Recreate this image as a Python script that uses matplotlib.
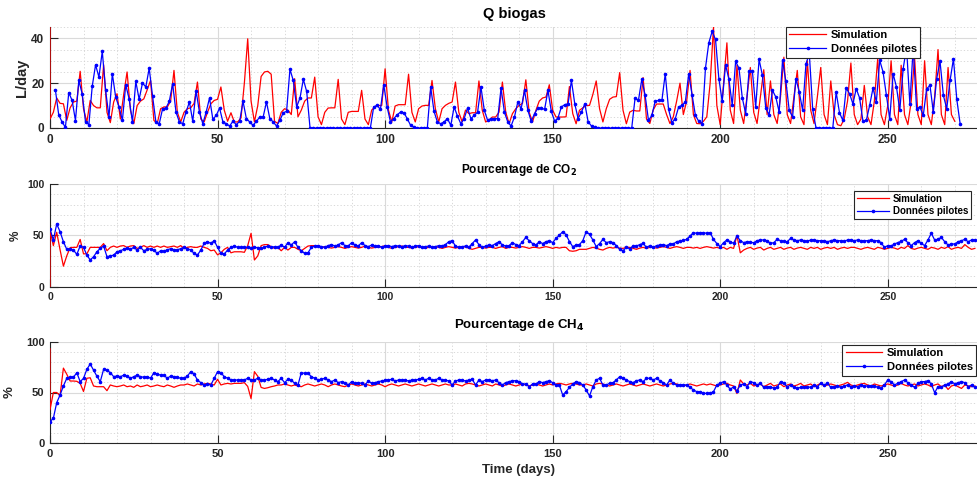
import numpy as np
import matplotlib
matplotlib.use("Agg")
import matplotlib.pyplot as plt
from matplotlib.ticker import MultipleLocator

plt.rcParams['font.family'] = ['Liberation Sans', 'DejaVu Sans']

# ---------------- DATA ----------------
legend_labels = ["Simulation", "Données pilotes"]
titles = ["Q biogas", r"Pourcentage de CO$_\mathbf{2}$", r"Pourcentage de CH$_\mathbf{4}$"]
ylabels = ["L/day", "%", "%"]
xlabel = "Time (days)"
xticks = [0, 50, 100, 150, 200, 250]

# Q biogas - pilot data (daily, first sample at day 1.6)
q_pilot_start = 1.6
q_pilot = [
    17.1, 5.9, 2.7, 0.3, 15.8, 12.3, 3.3, 21.2, 15.3, 2.7, 1.5, 18.6, 28.2, 22.7, 34.2, 16.8, 4.9, 24.2, 13.8, 9.4,
    3.4, 19.3, 13.1, 2.7, 20.8, 12.8, 20.1, 18.3, 26.7, 14.3, 2.7, 1.9, 8.6, 8.9, 11.9, 19.8, 7.1, 2.7, 1.9, 7.1,
    11.6, 3.0, 16.5, 7.1, 1.9, 7.1, 13.4, 3.9, 5.6, 8.9, 2.7, 1.9, 0.9, 3.0,
    1.5, 3.0, 11.9, 4.2, 2.7, 1.2, 3.0, 4.9, 4.9, 11.6, 4.2, 2.7, 0.9, 3.4, 6.8, 7.4, 26.2, 21.2, 9.4, 13.4,
    21.7, 16.3, 0, 0, 0, 0, 0, 0, 0, 0, 0, 0, 0, 0, 0, 0, 0, 0, 0, 0, 0,
    9.4, 10.1, 8.3, 19.3, 9.4, 2.7, 4.2, 5.9, 7.1, 6.8, 4.2, 1.2, 0.3,
    0, 0, 0, 0,
    18.3, 7.4, 2.7, 1.9, 2.7, 4.2, 1.2, 9.4, 5.3, 1.9, 4.2, 8.9, 4.2, 5.6, 7.1, 18.3, 7.9, 3.4, 4.2, 4.2,
    4.2, 17.8, 7.1, 2.7, 0.9, 4.9, 11.6, 8.6, 16.8, 7.9, 3.0, 6.4, 8.9, 8.9, 8.3, 16.8, 7.4, 3.0, 4.5, 9.4,
    10.4, 10.8, 21.2, 10.8, 4.2, 7.1, 10.8, 2.7, 0.9, 0.3,
    0, 0, 0, 0, 0, 0, 0, 0, 0, 0, 0,
    13.4, 12.3, 21.7, 14.6, 3.4, 5.6, 11.9, 12.3, 12.3, 24.2, 8.3, 2.4, 4.2, 9.4, 10.1, 11.6, 24.2, 14.9, 5.6, 3.0,
    1.9, 26.7, 38.0, 43.1, 39.5, 22.0, 11.9, 28.2, 21.7, 10.1, 29.7, 26.7, 13.4, 6.4, 25.3, 25.3, 9.4, 30.6, 23.5, 8.9,
    5.9, 16.8, 13.8, 7.1,
    30.2, 20.8, 7.9, 4.9, 22.0, 16.0, 7.9, 28.7, 33.1, 8.3, 0, 0, 0, 0, 0, 0,
    16.0, 6.8, 3.4, 17.8, 15.3, 10.8, 17.5, 13.4, 3.0, 3.4, 10.1, 17.8, 11.6, 30.2, 25.0, 14.6, 4.2, 24.2, 18.3, 7.9,
    26.4, 36.0, 10.8, 36.0, 8.6, 9.4, 5.6, 17.5, 19.0, 7.1, 22.0, 29.7, 14.6, 8.6, 21.2, 30.9, 12.8, 1.9,
]

# Q biogas - simulation (daily from day 0, initial value before the jump)
q_sim_initial = 48
q_sim = [
    4, 7, 13.4, 11, 10.8, 3.4, 9, 11.6, 12, 25.3, 8.6, 2.7, 12.3, 10, 9, 9, 28.2, 7, 2.4, 11.6,
    15.3, 4, 15, 25, 8, 1.9, 10, 12, 13, 17, 21.2, 3.4, 2, 8.6, 9.4, 9.4, 12, 25.7, 7, 2.7,
    7, 8.6, 9, 11, 20.5, 4, 2.7, 7, 10.8, 12.3, 12.8, 18.3, 8, 3, 6.8, 2.7, 2.7, 4.5, 20, 39.8,
    12, 2.7, 10, 23, 25, 25.3, 24, 3, 2, 7, 8.6, 8, 6, 22, 5, 8, 12, 13.4, 13.4, 22.7,
    5, 1.5, 7, 8.9, 9, 9, 21.7, 4, 1.5, 7, 7.4, 7.4, 7.4, 16.8, 4, 1.5, 8, 9.5, 10, 10.1,
    26.4, 8, 2.7, 9.8, 10.4, 10.4, 10.4, 24, 7, 2.7, 8.6, 9.8, 10.1, 10.1, 21.2, 8.6, 2.7, 8.6, 10.1, 11,
    11.6, 20.5, 7, 2.7, 8, 6.4, 6.8, 6.8, 21, 7.9, 2.7, 3.4, 4.9, 4.9, 7.1, 20.5, 7.1, 1.9, 6.4, 8.6,
    10.1, 11, 21.5, 7, 2.7, 7.9, 12, 13.4, 13.8, 19.3, 7.9, 4.9, 4.9, 4.9, 5, 18.5, 6.4, 1.9, 7.9, 9,
    10, 10.1, 15, 21, 8.6, 2.7, 8.6, 12.8, 13.8, 14, 24.7, 7.9, 1.9, 7.1, 7.9, 7.6, 7.6, 22.5, 4, 2,
    8, 10.7, 10.7, 10.7, 6, 2, 5, 12, 20, 6, 12, 25.7, 6, 2, 1.9, 3, 5, 20, 45, 10,
    1.5, 20, 38, 8, 2, 28, 8, 2, 14, 27, 7, 2, 14, 26, 6, 21, 6, 2, 14, 31.6,
    6, 2, 14, 25.7, 5, 1.5, 30, 8, 2, 14, 27, 6, 1.5, 21, 6, 1.5, 1, 4, 12, 29,
    6, 1.5, 4, 19, 5, 1.5, 12, 31, 6, 1.5, 10, 30, 6, 1.5, 28, 6, 1.5, 12, 31.6, 6,
    1.5, 30, 6, 1.5, 14, 35, 6, 1.5, 27, 6, 3,
]

# CO2 percentage - pilot data (daily from day 0)
co2_pilot = [
    56.2, 45.5, 61, 53.6, 43.8, 36.4, 36.4, 35.7, 31.5, 39.6, 38.3, 30.8, 26, 29.2, 34, 37.3, 39.6, 29.2, 29.9, 30.8,
    34, 35, 36.4, 37.3, 36.4, 38.3, 35.7, 38.3, 35, 36.4, 37, 35.5, 32.5, 35, 34.5, 36, 37, 36, 36, 37,
    38.3, 37, 35.7, 32.5, 30.8, 35.7, 42.2, 43.8, 42.2, 44.8, 38.3, 32.5, 31.8, 35.7, 38.3, 39.6, 38.3, 38.3, 38.3, 38.3,
    37.3, 38.3, 38, 37.3, 38.3, 39.6, 38.3, 39, 38.3, 40.6, 38.3, 42.9, 40.6, 43.8, 38.3, 35, 32.5, 33.1, 38.3, 39.6,
    40, 39, 38.3, 40, 41, 39.6, 40.6, 42.9, 40, 39.6, 42.9, 40.6, 39.6, 42.9, 40, 39, 40.6, 39.6, 40, 38.3,
    39.6, 40, 39, 40, 39.6, 39, 40, 39.6, 38.3, 39.6, 40, 38.3, 39, 39.6, 38.3, 39, 40, 39.6, 41, 43.8,
    44.8, 39.6, 38.3, 39, 39.6, 38.3, 42, 45.5, 41, 38.3, 39.6, 40.6, 40, 42, 43.8, 40.6, 39.6, 40, 42.9, 41,
    40, 43.8, 48, 44.8, 42, 40.6, 43.8, 42, 43.8, 44.8, 42.9, 47, 50, 53.6, 50.6, 44, 39, 40.6, 41, 44.8,
    53.6, 51, 45.5, 39, 42, 46.1, 42.9, 43.8, 42.9, 40, 36.4, 35, 38.3, 37, 39.6, 39.6, 41, 42.2, 38.3, 40,
    38.3, 40, 40.6, 41, 40, 41.6, 41.6, 43.8, 44.5, 45, 46.1, 49.4, 52.6, 52, 52.6, 52.6, 52, 52.6, 46.1, 42,
    39, 42.9, 45.5, 43.8, 42.2, 49.4, 44.8, 42.9, 43.8, 43.1, 42.9, 44.8, 45.5, 45.5, 44.8, 42.2, 42.9, 46.1, 44.8, 44.2,
    43.8, 47, 45.5, 44.8, 45.5, 44.8, 44.2, 45.5, 45.5, 44.8, 44.8, 44.8, 43.8, 44.8, 45.5, 44.8, 44.8, 44.2, 45.5, 45.5,
    44.8, 45.5, 44.8, 44.8, 44.8, 45.5, 44.8, 44.8, 42.9, 38.3, 40, 39.6, 41.6, 42.9, 44.2, 46.1, 42.9, 40, 42.9, 44.8,
    42.2, 40, 45.5, 52, 45.5, 46.1, 48, 43.8, 40.6, 41.6, 41.6, 43.8, 44.8, 46.1, 43.8, 45.5, 45.5,
]

# CO2 percentage - simulation (daily from day 0, initial value before the jump)
co2_sim_initial = 0
co2_sim = [
    55, 40, 53, 36, 20, 30, 38, 38.3, 38.3, 46, 32, 32, 38.3, 38.3, 38.3, 38.3, 42, 35, 38.3, 39.6,
    38.3, 39.6, 40, 38.3, 39.6, 40, 37.3, 38.3, 40, 38.3, 39.6, 38.3, 39.6, 38.3, 39.6, 38.3, 39, 39.6, 38.3, 40,
    37.3, 38.3, 39, 38.3, 38.3, 39.6, 38.3, 37.3, 35, 35.7, 31, 33, 36.4, 38.3, 33, 34, 34, 34, 33.5, 40,
    52, 26, 30, 40, 41, 41, 39, 37.3, 38.3, 35, 38.3, 35.7, 38.3, 38.3, 36.4, 35, 37.3, 39.6, 40, 40,
    39.6, 38.3, 39, 38.3, 37.6, 38.3, 39, 38.3, 37.3, 38.3, 39, 38.3, 37.6, 38.3, 39.6, 38.3, 37.6, 38.3, 38.3, 39,
    40, 38.3, 37.3, 38.3, 39, 39.6, 38.3, 38.3, 37.6, 38.3, 39, 38.3, 37.6, 38.3, 38.3, 39, 38.3, 37.3, 38.3, 39,
    38.3, 37.6, 38.3, 38.3, 39, 37.3, 36.4, 37.3, 38.3, 38.3, 37.6, 38.3, 38.3, 37.3, 38.3, 39, 37.3, 38.3, 38.3, 37.6,
    38.3, 39, 38.3, 37.3, 38.3, 38.3, 37.6, 38.3, 39, 38.3, 37.3, 38.3, 37.6, 38.3, 38.3, 35, 34.5, 35, 36.4, 36.4,
    36.4, 37.3, 38.3, 37.6, 36.4, 35.7, 37.3, 38.3, 37.6, 38.3, 37.6, 37.3, 38.3, 38.3, 37.3, 36.4, 37.6, 38.3, 37.3, 38.3,
    38.3, 37.6, 38.3, 39, 38.3, 37.3, 38.3, 39, 38.3, 37.3, 38.3, 38.3, 37.6, 38.3, 37.3, 38.3, 39, 38.3, 37.6, 38.3,
    37.3, 38.3, 36.4, 38.3, 37.3, 50, 33, 35.7, 37.3, 38.3, 36.4, 37.6, 38.3, 35.7, 37.3, 38.3, 36.4, 37.3, 38.3, 36.4,
    37.6, 38.3, 36.4, 37.6, 38.3, 37.3, 36.4, 38.3, 37.3, 38.3, 36.4, 37.6, 38.3, 37.3, 38.3, 36.4, 37.6, 38.3, 37.3, 38.3,
    38.3, 37.3, 36.4, 37.6, 38.3, 37.3, 36.4, 38.3, 37.6, 36.4, 37.3, 38.3, 37.6, 36.4, 38.3, 37.3, 40, 37.3, 36.4, 37.6,
    38.3, 37.3, 36.4, 38.3, 37.6, 36.4, 38.3, 37.3, 39, 36.4, 37.6, 38.3, 37.3, 41, 38.3, 36.4, 37.3,
]

# CH4 percentage - pilot data (daily from day 0)
ch4_pilot = [
    21.3, 24.6, 40, 47.5, 56.4, 63.9, 65, 65, 69.5, 60.7, 63.9, 72.8, 78, 72, 66, 60.7, 72.8, 72, 69.5, 65.6,
    66.2, 65.6, 67, 66.2, 64, 65.6, 67, 65.6, 65, 65.6, 64, 69.5, 68.2, 67, 67, 64, 66.2, 65.6, 65, 64,
    64, 66.2, 70.5, 68.2, 62.3, 59.7, 57.4, 58.4, 57.4, 64, 70.5, 69.5, 65.6, 64, 62.3, 62.3, 62.3, 62.3, 62.3, 64,
    62.3, 62.3, 64, 62.3, 62.3, 63, 64, 62.3, 60.7, 64, 59.7, 63, 62.3, 59, 57.4, 69.5, 68.9, 68.9, 65.6, 64,
    62.3, 63, 64, 62.3, 60.7, 62.3, 59.7, 60.7, 59.7, 57.4, 60.7, 59, 59.7, 59, 57.4, 61.3, 59, 59.7, 60.7, 61.3,
    62, 62.3, 63, 61.3, 62.3, 62.3, 62.3, 61.3, 62.3, 62.3, 63, 64, 62.3, 64, 62.3, 62.3, 64, 62.3, 62.3, 61.3,
    57.4, 61.3, 62.3, 62.3, 61.3, 62.3, 63, 57.4, 62.3, 60.7, 62.3, 62.3, 61.6, 62.3, 59.7, 57.4, 59.7, 60.7, 61.6, 61.6,
    60.7, 58.4, 58.4, 55.7, 58.4, 58.4, 60.7, 59.7, 60.7, 61.6, 59.7, 57.4, 57.4, 47.5, 50.8, 55, 58.4, 60.7, 59.7, 57.4,
    52.5, 46.6, 55.7, 62.3, 64, 57.4, 57.4, 59, 59.7, 62.3, 65.6, 64, 62.3, 60.7, 59.7, 61.6, 62.3, 60.7, 64, 64,
    62.3, 64, 61.6, 59.7, 57.4, 62.3, 59, 57.4, 57.4, 57.4, 57.4, 55.1, 52.5, 50.8, 50.8, 49.2, 49.2, 49.2, 50.8, 57.4,
    59, 60.7, 57.4, 53.1, 55.7, 51.5, 57.4, 58.4, 55.7, 60.7, 59.7, 57.4, 59, 55.1, 55.7, 55.7, 54.1, 55.1, 60.7, 59,
    55.7, 57.4, 55.1, 54.1, 55.1, 55.1, 55.7, 55.1, 57.4, 55.7, 59, 57.4, 59, 55.1, 55.7, 56.4, 55.1, 56.4, 57.4, 55.7,
    56.4, 55.7, 57.4, 56.4, 56.4, 56.4, 56.4, 55.1, 54.1, 57.4, 62.3, 60.7, 57.4, 59, 60.7, 62.3, 59.7, 57.4, 55.1, 59,
    60.7, 60.7, 61.6, 58.4, 49.8, 55.7, 55.1, 57.4, 58.4, 60.7, 58.4, 59.7, 60.7, 59.7, 55.7, 57.4, 55.1,
]

# CH4 percentage - simulation (daily from day 0, initial value before the jump)
ch4_sim_initial = 93
ch4_sim = [
    33, 50, 50, 47, 74, 68, 61.3, 61.3, 61, 59, 51, 64, 64.5, 56.4, 55.7, 55.7, 55.7, 51.8, 57.4, 56.4,
    55.7, 56.4, 57.4, 55.7, 56.4, 55.1, 57.4, 55.7, 56.4, 57.4, 55.7, 56.4, 57.4, 56.4, 55.7, 57.4, 56.4, 55.1, 56.4, 57.4,
    57.4, 58.4, 57.4, 56.4, 58.4, 57.4, 58.4, 59, 58.4, 57.4, 63, 57.4, 58.4, 59, 58.4, 59, 59, 59, 59.7, 56,
    44, 70.5, 66, 55, 54, 54.7, 55.7, 56.4, 57.4, 57.4, 58.4, 57.4, 56.4, 57.4, 56.4, 55.7, 57.4, 58.4, 57.4, 56.4,
    57.4, 58.4, 57.4, 55.7, 57.4, 58.4, 57.4, 56.4, 55.7, 57.4, 58.4, 57.4, 56.4, 57.4, 58.4, 57.4, 56.4, 57.4, 58.4, 57.4,
    55.7, 57.4, 58.4, 57.4, 56.4, 57.4, 58.4, 57.4, 56.4, 57.4, 58.4, 57.4, 56.4, 57.4, 58.4, 57.4, 56.4, 57.4, 58.4, 57.4,
    57.4, 58.4, 57.4, 56.4, 58.4, 59, 58.4, 57.4, 56.4, 57.4, 58.4, 57.4, 56.4, 58.4, 57.4, 56.4, 57.4, 58.4, 57.4, 56.4,
    57.4, 58.4, 57.4, 56.4, 57.4, 58.4, 57.4, 56.4, 57.4, 58.4, 57.4, 58.4, 59, 58.4, 57.4, 58.4, 59, 58.4, 57.4, 57.4,
    58.4, 57.4, 56.4, 58.4, 59, 58.4, 57.4, 56.4, 57.4, 58.4, 57.4, 56.4, 57.4, 58.4, 57.4, 56.4, 57.4, 58.4, 57.4, 56.4,
    57.4, 58.4, 57.4, 56.4, 57.4, 58.4, 59, 58.4, 57.4, 56.4, 57.4, 58.4, 57.4, 56.4, 57.4, 58.4, 57.4, 58.4, 57.4, 56.4,
    57.4, 58.4, 59, 57.4, 56.4, 49, 62.3, 58.4, 57.4, 59, 56.4, 57.4, 58.4, 55.7, 57.4, 59, 56.4, 57.4, 58.4, 55.7,
    57.4, 58.4, 56.4, 57.4, 59, 56.4, 57.4, 58.4, 55.7, 57.4, 59, 56.4, 57.4, 58.4, 57.4, 56.4, 57.4, 58.4, 60, 57.4,
    56.4, 57.4, 58.4, 59, 57.4, 56.4, 58.4, 57.4, 56.4, 57.4, 58.4, 57.4, 56.4, 57.4, 59, 57.4, 56.4, 57.4, 58.4, 56.4,
    57.4, 58.4, 57.4, 55.7, 57.4, 58.4, 55.7, 57.4, 53, 56.4, 57.4, 55.7, 54, 57.4, 56.4, 55.7, 56.4,
]

# ---------------- FIGURE ----------------
W, H = 977, 484
fig = plt.figure(figsize=(W / 100, H / 100), dpi=100)

TXT = '#262626'
RED = '#ff0000'
BLUE = '#0000ff'


def px_axes(left, top, right, bottom):
    return fig.add_axes([left / W, 1 - bottom / H, (right - left) / W, (bottom - top) / H])


panels = [
    dict(box=(50, 26.7, 977, 128), ylim=(0, 45.2), yticks=[0, 20, 40], yminor=5,
         sim=q_sim, sim0=q_sim_initial, pilot=q_pilot, pilot_start=q_pilot_start,
         tick_fs=8.5, leg_anchor=(0.9385, 0.997), leg_fs=8, leg_sp=0.35, ylab_x=-0.0227, ylab_fs=10.5),
    dict(box=(50, 184, 977, 286.7), ylim=(0, 100), yticks=[0, 50, 100], yminor=10,
         sim=co2_sim, sim0=co2_sim_initial, pilot=co2_pilot, pilot_start=0,
         tick_fs=7.5, leg_anchor=(0.9935, 0.932), leg_fs=7, leg_sp=0.25, ylab_x=-0.031, ylab_fs=8.5),
    dict(box=(50, 341.7, 977, 443.3), ylim=(0, 100), yticks=[0, 50, 100], yminor=10,
         sim=ch4_sim, sim0=ch4_sim_initial, pilot=ch4_pilot, pilot_start=0,
         tick_fs=8, leg_anchor=(0.999, 0.9675), leg_fs=8, leg_sp=0.35, ylab_x=-0.0367, ylab_fs=9.5),
]

xmax = (977 - 50) / 3.351

for i, p in enumerate(panels):
    ax = px_axes(*p['box'])
    sim_t = np.concatenate([[0.0], np.arange(len(p['sim']), dtype=float)])
    sim_v = np.concatenate([[p['sim0']], p['sim']])
    pil_t = p['pilot_start'] + np.arange(len(p['pilot']), dtype=float)
    ax.plot(sim_t, sim_v, color=RED, lw=0.9, label=legend_labels[0], zorder=3)
    ax.plot(pil_t, p['pilot'], color=BLUE, lw=0.9, marker='.', ms=3.2,
            label=legend_labels[1], zorder=4)

    ax.set_xlim(0, xmax)
    ax.set_ylim(*p['ylim'])
    ax.set_xticks(xticks)
    ax.set_yticks(p['yticks'])
    ax.xaxis.set_minor_locator(MultipleLocator(10))
    ax.yaxis.set_minor_locator(MultipleLocator(p['yminor']))
    ax.grid(which='major', color='#dadada', lw=0.8, ls='-')
    ax.grid(which='minor', color='#d2d2d2', lw=0.6, ls=(0, (1.5, 2.5)))
    ax.set_axisbelow(True)
    for s in ('top', 'right'):
        ax.spines[s].set_visible(False)
    for s in ('left', 'bottom'):
        ax.spines[s].set_color(TXT)
        ax.spines[s].set_linewidth(0.8)
    ax.tick_params(which='major', direction='in', length=6, width=0.8, color=TXT,
                   labelsize=p['tick_fs'], labelcolor=TXT, pad=4)
    ax.tick_params(which='minor', length=0)
    for lab in ax.get_xticklabels() + ax.get_yticklabels():
        lab.set_fontweight('bold')

    ax.set_ylabel(ylabels[i], fontsize=p['ylab_fs'], fontweight='bold', color=TXT)
    ax.yaxis.set_label_coords(p['ylab_x'], 0.5)

    leg = ax.legend(loc='upper right', bbox_to_anchor=p['leg_anchor'], borderaxespad=0,
                    fancybox=False, framealpha=1, edgecolor=TXT, handlelength=3.3,
                    handletextpad=0.4, borderpad=0.3, labelspacing=p['leg_sp'], numpoints=1,
                    prop={'weight': 'bold', 'size': p['leg_fs']})
    leg.get_frame().set_linewidth(0.8)
    for t in leg.get_texts():
        t.set_color('black')

# titles and x label
fig.text(514 / W, 1 - 14 / H, titles[0], ha='center', va='center', fontsize=10.5, fontweight='bold', color='black')
fig.text(519 / W, 1 - 170 / H, titles[1], ha='center', va='center', fontsize=8.5, fontweight='bold', color='black')
fig.text(519 / W, 1 - 325 / H, titles[2], ha='center', va='center', fontsize=9.5, fontweight='bold', color='black')
fig.text(519 / W, 1 - 470 / H, xlabel, ha='center', va='center', fontsize=9.5, fontweight='bold', color=TXT)

fig.savefig('out.png', dpi=100)
